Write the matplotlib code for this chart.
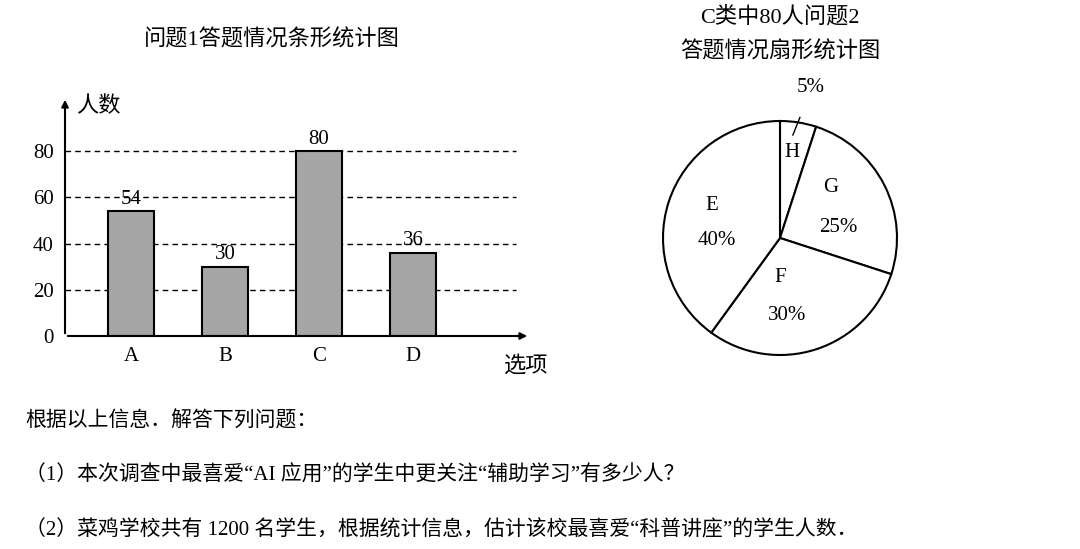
import matplotlib
matplotlib.use("Agg")
import matplotlib.pyplot as plt

categories = ["A", "B", "C", "D"]
counts = [54, 30, 80, 36]
pie_labels = ["H", "G", "F", "E"]
pie_pcts = [5, 25, 30, 40]
yticks = [0, 20, 40, 60, 80]

FF = ["Liberation Serif", "Noto Sans CJK SC"]
plt.rcParams['font.family'] = FF

W, H = 1080, 549
fig = plt.figure(figsize=(W/100, H/100), dpi=100)

# Bar chart
ax = fig.add_axes([65/W, 1-336/H, 465/W, 239/H])
x = list(range(1, len(categories)+1))
ax.bar(x, counts, width=0.49, color="#a6a6a6", edgecolor="black", linewidth=1.5, zorder=3)
ax.set_xlim(0.298, 5.245)
ax.set_ylim(0, 103.4)
for t in yticks[1:]:
    ax.plot([0.298, 5.1], [t, t], ls=(0, (4, 3)), color="black", lw=1, zorder=1)
for xi, v in zip(x, counts):
    ax.text(xi, v + 1, str(v), ha="center", va="bottom", fontsize=15)
for s in ax.spines.values():
    s.set_visible(False)
ax.annotate("", xy=(5.245, 0), xytext=(0.298, 0),
            arrowprops=dict(arrowstyle="-|>", color="black", lw=1.5), annotation_clip=False)
ax.annotate("", xy=(0.298, 103.4), xytext=(0.298, 0),
            arrowprops=dict(arrowstyle="-|>", color="black", lw=1.5), annotation_clip=False)
ax.set_xticks(x)
ax.set_xticklabels(categories, fontsize=15)
ax.set_yticks(yticks)
ax.set_yticklabels([str(t) for t in yticks], fontsize=15)
ax.tick_params(length=0, pad=8)
ax.text(0.42, 99, "人数", fontsize=16, va="center", ha="left")
ax.text(5.2, -13, "选项", fontsize=16, va="center", ha="center")
fig.text(272/W, 1-40/H, "问题1答题情况条形统计图", fontsize=16, ha="center", va="center")

# Pie chart
r = 117
pax = fig.add_axes([(780-r)/W, 1-(238+r)/H, 2*r/W, 2*r/H])
pax.pie(pie_pcts, startangle=90, counterclock=False, radius=1,
        colors=["white"]*4, wedgeprops=dict(edgecolor="black", linewidth=1.5))
pax.set_xlim(-1, 1)
pax.set_ylim(-1, 1)
pax.set_aspect("equal")
pax.axis("off")
name_pos = {"H": (0.1, 0.73), "G": (0.43, 0.43), "F": (0.0, -0.34), "E": (-0.58, 0.28)}
pct_pos = {"H": (0.26, 1.29), "G": (0.5, 0.09), "F": (0.06, -0.66), "E": (-0.54, -0.02)}
for lab, p in zip(pie_labels, pie_pcts):
    px, py = name_pos[lab]
    pax.text(px, py, lab, ha="center", va="center", fontsize=15)
    qx, qy = pct_pos[lab]
    pax.text(qx, qy, f"{p}%", ha="center", va="center", fontsize=15)
pax.plot([0.17, 0.11], [1.03, 0.88], color="black", lw=1, clip_on=False)
fig.text(780/W, 1-17/H, "C类中80人问题2", fontsize=16, ha="center", va="center")
fig.text(780/W, 1-52/H, "答题情况扇形统计图", fontsize=16, ha="center", va="center")

fig.text(25/W, 1-421/H, "根据以上信息．解答下列问题：", fontsize=15, va="center")
fig.text(25/W, 1-476/H, "（1）本次调查中最喜爱“AI 应用”的学生中更关注“辅助学习”有多少人？", fontsize=15, va="center")
fig.text(25/W, 1-530/H, "（2）菜鸡学校共有 1200 名学生，根据统计信息，估计该校最喜爱“科普讲座”的学生人数．", fontsize=15, va="center")

fig.savefig("out.png", dpi=100)
